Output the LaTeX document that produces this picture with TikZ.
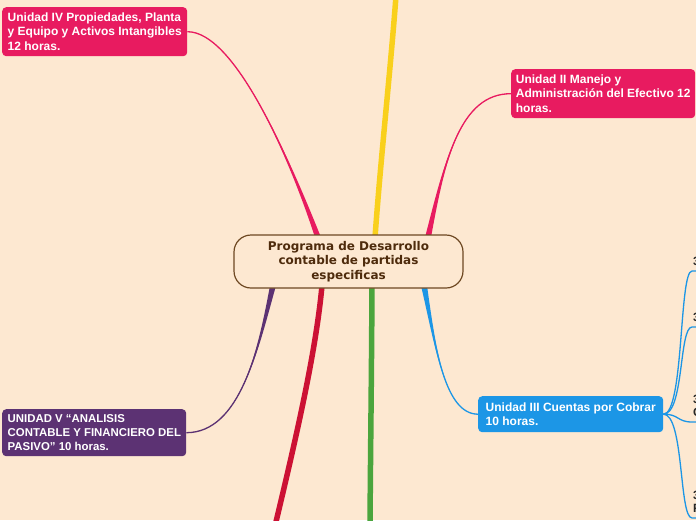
\documentclass[tikz,border=0pt]{standalone}
\usepackage{fontspec}
\setmainfont{Liberation Sans}
\newfontfamily\centralfont{DejaVu Sans}
\usetikzlibrary{backgrounds}
\definecolor{bgc}{RGB}{253,232,209}
\definecolor{pinkc}{RGB}{232,27,96}
\definecolor{bluec}{RGB}{28,150,230}
\definecolor{purplec}{RGB}{92,50,115}
\definecolor{crimsonc}{RGB}{204,17,52}
\definecolor{greenc}{RGB}{75,165,61}
\definecolor{yellowc}{RGB}{249,208,28}
\definecolor{brownc}{RGB}{110,72,34}
\definecolor{browntext}{RGB}{78,43,12}
\definecolor{childtext}{RGB}{40,40,40}
\newcommand\taperline[6]{%
  \fill[#1] ([xshift=-#6]#2) .. controls #3 and #4 .. (#5) .. controls #4 and #3 .. ([xshift=#6]#2) -- cycle;
  \draw[#1,line width=1.3pt] (#2) .. controls #3 and #4 .. (#5);
}
\begin{document}
\begin{tikzpicture}[x=1pt,y=-1pt,
  ubox/.style={rounded corners=4pt, text=white, font=\fontsize{12}{14.5}\selectfont\bfseries,
    align=left, inner xsep=0pt, inner ysep=0pt, minimum width=185pt, anchor=north west},
  rootbox/.style={rounded corners=17pt, draw=brownc, line width=1.2pt, fill=bgc,
    minimum width=229pt, minimum height=53pt, align=center, text=browntext,
    font=\centralfont\fontsize{12}{14.3}\selectfont\bfseries, inner sep=0pt},
  childbox/.style={anchor=south west, align=left, text=childtext, inner xsep=1pt, inner ysep=5pt,
    font=\fontsize{12}{13}\selectfont\bfseries},
  subline/.style={draw=bluec, line width=1.3pt},
  thickbranch/.style={line width=5.5pt}
]
\useasboundingbox (0,0) rectangle (696,520);

% nodes
\node[rootbox] (root) at (348.5,261.5) {Programa de Desarrollo\\contable de partidas\\especificas};
\node[ubox, fill=pinkc, minimum height=49pt] (u4) at (2,7)
  {Unidad IV Propiedades, Planta\\y Equipo y Activos Intangibles\\12 horas.};
\node[ubox, fill=pinkc, minimum height=49pt, minimum width=184pt] (u2) at (511,69)
  {Unidad II Manejo y\\Administración del Efectivo 12\\horas.};
\node[ubox, fill=bluec, minimum height=36pt, minimum width=185pt] (u3) at (478,396)
  {Unidad III Cuentas por Cobrar\\10 horas.};
\node[ubox, fill=purplec, minimum height=47pt, minimum width=184pt,
  font=\fontsize{11.4}{14.2}\selectfont\bfseries] (u5) at (2,409)
  {UNIDAD V “ANALISIS\\\makebox[173pt][l]{CONTABLE Y FINANCIERO DEL}\\PASIVO” 10 horas.};

\node[childbox] (c1) at (692,271) {3};
\node[childbox] (c2) at (692,327) {3};
\node[childbox] (c3) at (692,422) {3\\C};
\node[childbox] (c4) at (692,518) {3\\F};

% connector end points
\coordinate (s4) at ([xshift=-30.5pt,yshift=-3pt]root.north);
\coordinate (sy) at ([xshift=26.5pt,yshift=-3pt]root.north);
\coordinate (s2) at ([xshift=79.5pt,yshift=-3pt]root.north);
\coordinate (s5) at ([xshift=-75.5pt,yshift=3pt]root.south);
\coordinate (sc) at ([xshift=-26.5pt,yshift=3pt]root.south);
\coordinate (sg) at ([xshift=23.5pt,yshift=3pt]root.south);
\coordinate (s3) at ([xshift=75.5pt,yshift=3pt]root.south);
\coordinate (ey) at (396,-4);
\coordinate (ec) at (275,526);
\coordinate (eg) at (370,526);

\begin{scope}[on background layer]
\fill[bgc] (0,0) rectangle (696,520);
\taperline{pinkc}{s4}{(290,160)}{(235,31.5)}{u4.east}{3pt}
\taperline{pinkc}{s2}{(445,160)}{(460,93.5)}{u2.west}{3pt}
\taperline{bluec}{s3}{(436,350)}{(445,414)}{u3.west}{3pt}
\taperline{purplec}{s5}{(258,350)}{(240,432.5)}{u5.east}{3pt}
\draw[yellowc, thickbranch] (sy) .. controls (381,155) and (390,75) .. (ey);
\draw[crimsonc, thickbranch] (sc) .. controls (316,350) and (298,430) .. (ec);
\draw[greenc, thickbranch] (sg) .. controls (371.5,380) and (370.5,450) .. (eg);
\draw[subline] (u3.east) .. controls (684,414) and (679,271) .. (c1.south west) -- (c1.south east);
\draw[subline] (u3.east) .. controls (684,414) and (679,327) .. (c2.south west) -- (c2.south east);
\draw[subline] (u3.east) .. controls (679,414) and (677,422) .. (c3.south west) -- (c3.south east);
\draw[subline] (u3.east) .. controls (684,414) and (679,518) .. (c4.south west) -- (c4.south east);
\end{scope}
\end{tikzpicture}
\end{document}
